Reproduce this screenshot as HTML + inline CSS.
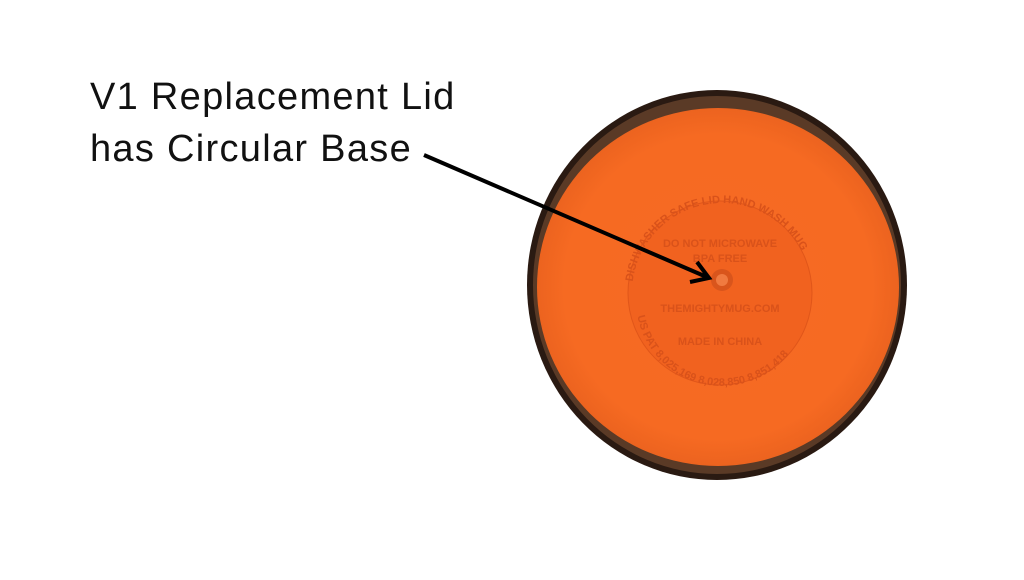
<!DOCTYPE html>
<html><head><style>
html,body{margin:0;padding:0;background:#fff;width:1024px;height:580px;overflow:hidden}
.t{position:absolute;left:90px;font-family:"Liberation Sans",sans-serif;font-size:38px;color:#111;letter-spacing:1.3px}
</style></head><body>
<svg width="1024" height="580" style="position:absolute;left:0;top:0">
<defs>
<radialGradient id="g" cx="50%" cy="50%" r="50%">
<stop offset="0%" stop-color="#f56a24"/><stop offset="85%" stop-color="#f66a22"/><stop offset="100%" stop-color="#ec631f"/>
</radialGradient>
<path id="arcT" d="M632,293 A90,90 0 0 1 812,293"/>
<path id="arcB" d="M636,300 A86,86 0 0 0 808,300"/>
</defs>
<ellipse cx="717" cy="285" rx="190" ry="195" fill="#2a1a12"/>
<ellipse cx="717" cy="285" rx="184" ry="189" fill="#5a3a26"/>
<ellipse cx="718" cy="287" rx="181" ry="179" fill="url(#g)"/>
<circle cx="720" cy="293" r="92" fill="#f1621f" stroke="#e0561a" stroke-width="1"/>
<g font-family="Liberation Sans,sans-serif" font-size="11" fill="#d9521a" font-weight="bold">
<text><textPath href="#arcT" startOffset="4%">DISHWASHER SAFE LID  HAND WASH MUG</textPath></text>
<text><textPath href="#arcB" startOffset="6%">US PAT 8,025,169 8,028,850 8,851,418</textPath></text>
<text x="720" y="247" text-anchor="middle">DO NOT MICROWAVE</text>
<text x="720" y="262" text-anchor="middle">BPA FREE</text>
<text x="720" y="312" text-anchor="middle">THEMIGHTYMUG.COM</text>
<text x="720" y="345" text-anchor="middle">MADE IN CHINA</text>
</g>
<circle cx="722" cy="280" r="11" fill="#d9551c"/>
<circle cx="722" cy="280" r="6" fill="#f07a40"/>
<line x1="424" y1="155" x2="709" y2="278" stroke="#000" stroke-width="4"/>
<polyline points="697,262 709,278 690,282" fill="none" stroke="#000" stroke-width="4"/>
</svg>
<div class="t" style="top:76px">V1 Replacement Lid</div>
<div class="t" style="top:128px">has Circular Base</div>
</body></html>
